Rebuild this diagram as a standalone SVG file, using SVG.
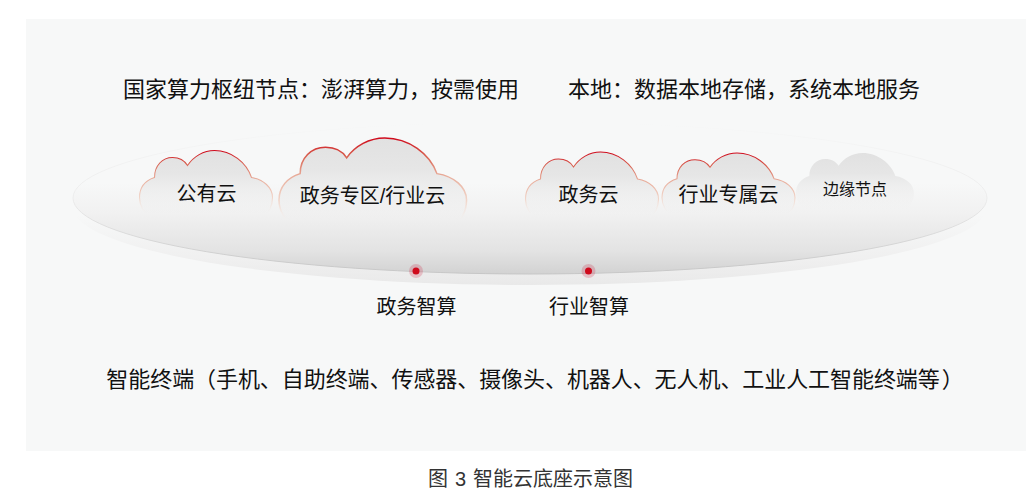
<svg xmlns="http://www.w3.org/2000/svg" width="1026" height="504" viewBox="0 0 1026 504">
<style>
text{font-family:"Liberation Sans","Noto Sans CJK SC",sans-serif;fill:#111;text-anchor:middle}
.t22{font-size:22px}.t20{font-size:20px}.t16{font-size:16px}
.cap{font-size:20px;fill:#333;word-spacing:1.500px}
.tight{letter-spacing:-.07px}
.cloud{fill:url(#cf);stroke:url(#cs);stroke-width:1.100}
.edge{fill:url(#cf)}
.halo{fill:#cf0a2c;fill-opacity:.2}.dot{fill:#cf0a1c}
</style>
<defs>
<linearGradient id="plate" x1="0" y1="0" x2="0" y2="1">
<stop offset="0" stop-color="#f7f8f8"/><stop offset=".4" stop-color="#f7f8f8"/><stop offset=".6" stop-color="#f1f1f1"/><stop offset=".85" stop-color="#e3e3e3"/><stop offset="1" stop-color="#d2d2d2"/>
</linearGradient>
<linearGradient id="rim" x1="0" y1="0" x2="0" y2="1">
<stop offset=".55" stop-color="#f7f8f8"/><stop offset=".85" stop-color="#efefef"/><stop offset="1" stop-color="#e9e9e9"/>
</linearGradient>
<linearGradient id="plateStroke" x1="0" y1="0" x2="0" y2="1">
<stop offset="0" stop-color="#f7f8f8"/><stop offset=".5" stop-color="#ececec"/><stop offset="1" stop-color="#c6c6c6"/>
</linearGradient>
<linearGradient id="cf" x1="0" y1="0" x2="0" y2="1">
<stop offset="0" stop-color="#e1e1e1"/><stop offset=".35" stop-color="#e6e6e6"/><stop offset="1" stop-color="#f0f0f0" stop-opacity="0"/>
</linearGradient>
<linearGradient id="cs" x1="0" y1="0" x2="0" y2="1">
<stop offset="0" stop-color="#cf0a1c"/><stop offset=".2" stop-color="#d8604f"/><stop offset=".42" stop-color="#e8ac9a"/><stop offset=".7" stop-color="#f1d6ca"/><stop offset=".92" stop-color="#f4ece8" stop-opacity="0"/>
</linearGradient>
<path id="c" d="M11 68C4 62 0 55 0 47C0 37 6 30 15 27C15 15 23 7 33 7C40 7 45 10 48 15C54 6 64 0 75 0C92 0 107 12 112 27C124 29 133 37 133 47C133 55 130 62 123 68Z"/>
</defs>
<rect width="1026" height="504" fill="#fff"/>
<rect x="26" y="19" width="1000" height="432" fill="#f7f8f8"/>
<g id="platform">
<ellipse cx="530" cy="207" rx="457" ry="78" fill="url(#rim)"/>
<ellipse cx="530" cy="198" rx="457" ry="76" fill="url(#plate)" stroke="url(#plateStroke)" stroke-width="1"/>
</g>
<g id="connectors"></g>
<g id="node-public"><use href="#c" class="cloud" transform="translate(139.500 150.500)"/><text class="t20" x="206.500" y="201">公有云</text></g>
<g id="node-gov-zone"><use href="#c" class="cloud" transform="translate(279 138) scale(1.410 1.320)"/><text class="t20" x="372.500" y="203">政务专区/行业云</text></g>
<g id="node-gov"><use href="#c" class="cloud" transform="translate(525.500 152)"/><text class="t20" x="588.500" y="202">政务云</text></g>
<g id="node-industry"><use href="#c" class="cloud" transform="translate(662 153) scale(1 .95)"/><text class="t20" x="728.500" y="202">行业专属云</text></g>
<g id="node-edge"><use href="#c" class="edge" transform="translate(796 153) scale(.887 .85)"/><text class="t16" x="855" y="195">边缘节点</text></g>
<g id="node-gov-ai"><circle class="halo" cx="416" cy="271" r="7"/><circle class="dot" cx="416" cy="271" r="3.500"/><text class="t20" x="416.500" y="314">政务智算</text></g>
<g id="node-industry-ai"><circle class="halo" cx="588.500" cy="271" r="7"/><circle class="dot" cx="588.500" cy="271" r="3.500"/><text class="t20" x="589" y="314">行业智算</text></g>
<text class="t22" x="321" y="97">国家算力枢纽节点&#xFF1A;澎湃算力&#xFF0C;按需使用</text>
<text class="t22" x="744" y="97">本地&#xFF1A;数据本地存储&#xFF0C;系统本地服务</text>
<text class="t22 tight" x="535" y="387">智能终端&#xFF08;手机、自助终端、传感器、摄像头、机器人、无人机、工业人工智能终端等<tspan dx="2">&#xFF09;</tspan></text>
<text class="cap" x="530.500" y="486">图 3 智能云底座示意图</text>
</svg>
